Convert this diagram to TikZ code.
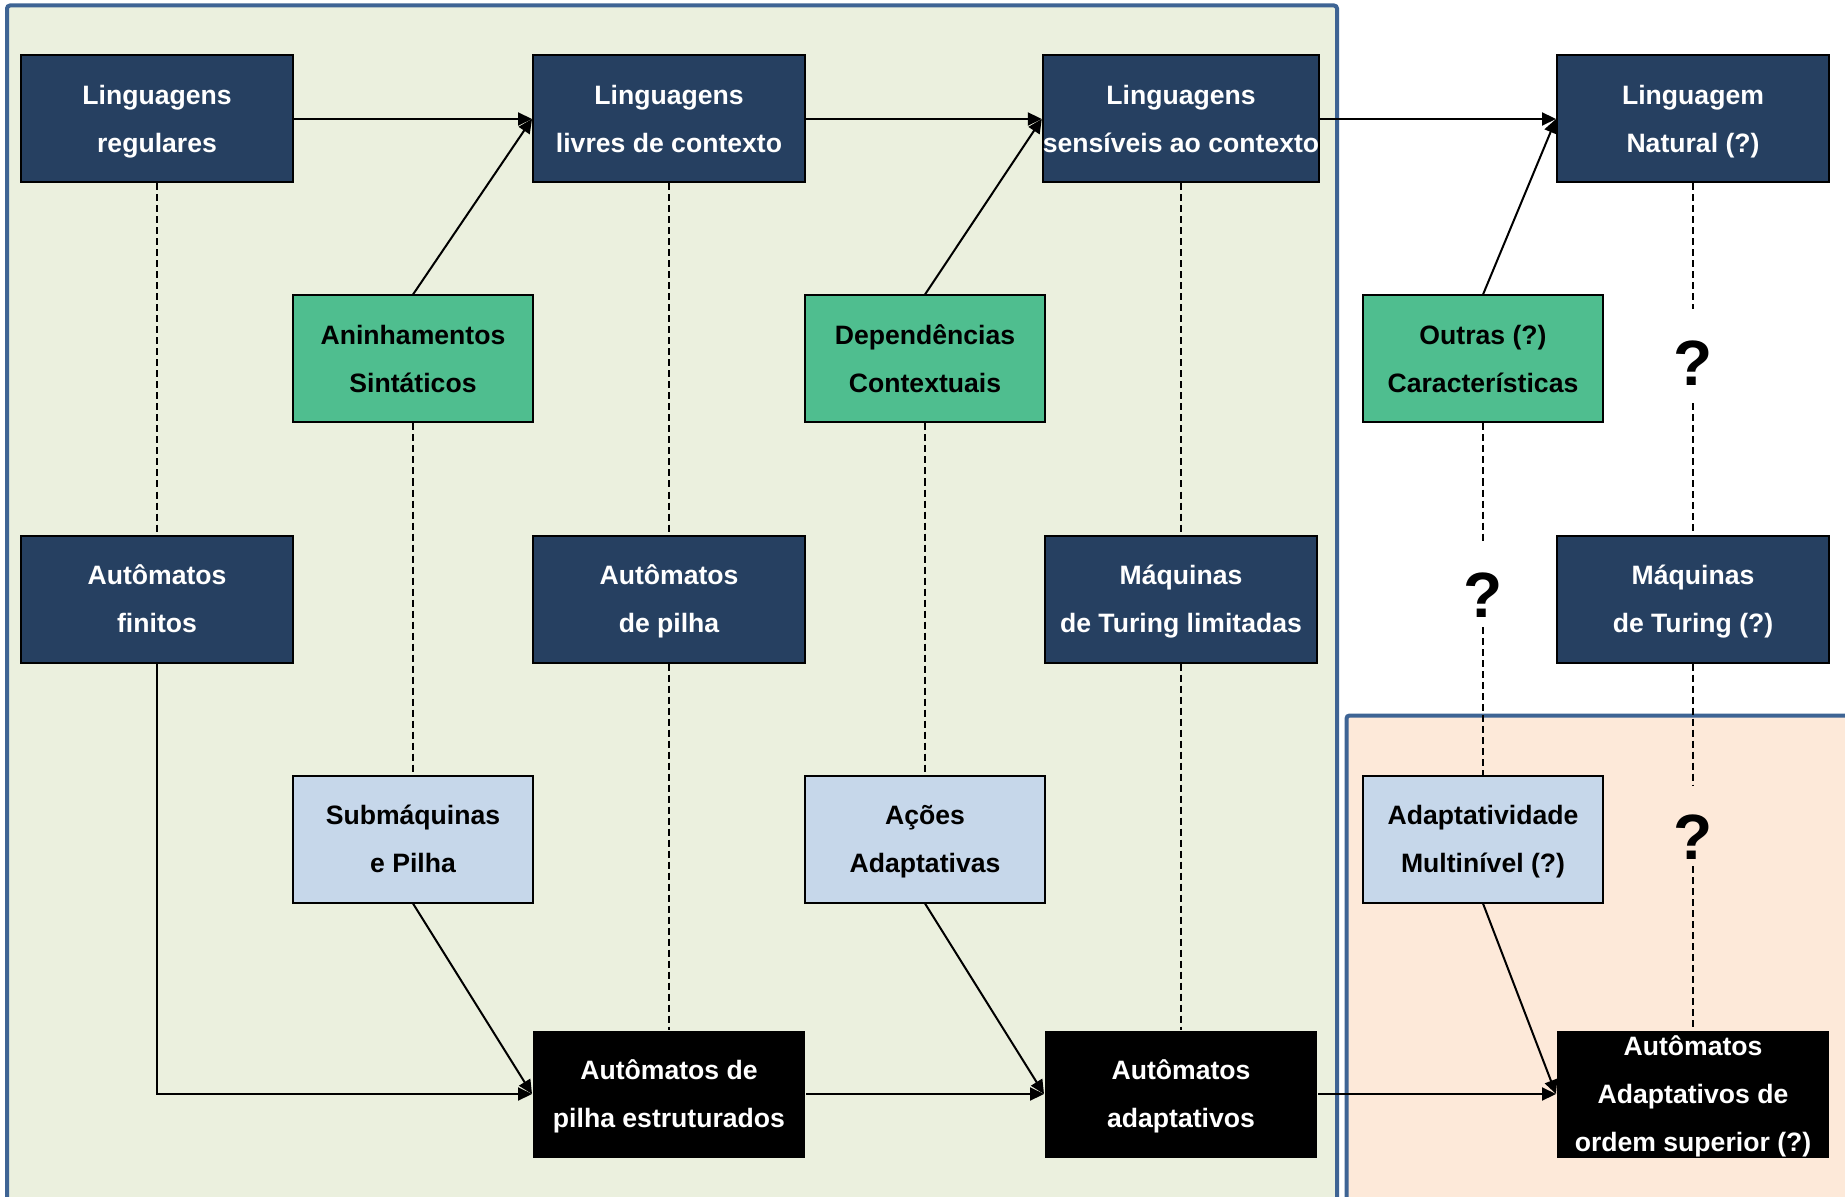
\documentclass[tikz,border=0pt]{standalone}
\usepackage{fontspec}
\setmainfont{Liberation Sans}
\usetikzlibrary{arrows.meta}
\definecolor{navy}{RGB}{38,64,97}
\definecolor{leaf}{RGB}{79,190,143}
\definecolor{sky}{RGB}{198,215,234}
\definecolor{olivebg}{RGB}{235,240,222}
\definecolor{peachbg}{RGB}{253,233,217}
\definecolor{framec}{RGB}{62,100,148}
\tikzset{
  region/.style={line width=2pt,draw=framec,rounded corners=1.5pt},
  cell/.style={draw=black,line width=1pt,align=center,inner sep=0pt,
    text height=33.5pt,text depth=0pt,
    font=\bfseries\fontsize{13.3}{24}\selectfont},
  langbox/.style={cell,fill=navy,text=white,minimum width=136pt,minimum height=63.5pt},
  featbox/.style={cell,fill=leaf,minimum width=120pt,minimum height=63.5pt},
  mechbox/.style={cell,fill=sky,minimum width=120pt,minimum height=63.5pt},
  resbox/.style={cell,draw=none,fill=black,text=white,minimum width=136pt,minimum height=63.5pt},
  link/.style={line width=1pt,-{Triangle[length=7pt,width=6.5pt]}},
  aid/.style={line width=0.7pt,dash pattern=on 3.5pt off 2pt},
  qmark/.style={font=\bfseries\fontsize{32}{32}\selectfont,inner sep=0pt,text depth=0pt}
}
\begin{document}
\begin{tikzpicture}[x=0.5pt,y=-0.5pt]
  \fill[white] (0,0) rectangle (1845,1197);
  \useasboundingbox (0,0) rectangle (1845,1197);
  \clip (0,0) rectangle (1845,1197);
  % regions
  \draw[region,fill=olivebg] (7,5.5) rectangle (1337,1230);
  \draw[region,fill=peachbg] (1346.5,715.5) rectangle (1880,1230);

  % languages
  \node[langbox] (RL)  at (157,119)  {Linguagens\\regulares};
  \node[langbox] (LLC) at (669,119)  {Linguagens\\livres de contexto};
  \node[langbox] (LSC) at (1181,119) {Linguagens\\sensíveis ao contexto};
  \node[langbox] (LN)  at (1693,119) {Linguagem\\Natural (?)};
  % features
  \node[featbox] (AS) at (413,359)  {Aninhamentos\\Sintáticos};
  \node[featbox] (DC) at (925,359)  {Dependências\\Contextuais};
  \node[featbox] (OC) at (1483,359) {Outras (?)\\Características};
  % machines
  \node[langbox] (AF)  at (157,599)  {Autômatos\\finitos};
  \node[langbox] (AP)  at (669,599)  {Autômatos\\de pilha};
  \node[langbox] (MTL) at (1181,599) {Máquinas\\de Turing limitadas};
  \node[langbox] (MT)  at (1693,599) {Máquinas\\de Turing (?)};
  % mechanisms
  \node[mechbox] (SP) at (413,839)  {Submáquinas\\e Pilha};
  \node[mechbox] (AC) at (925,839)  {Ações\\Adaptativas};
  \node[mechbox] (AM) at (1483,839) {Adaptatividade\\Multinível (?)};
  % results
  \node[resbox] (APE) at (669,1094)  {Autômatos de\\pilha estruturados};
  \node[resbox] (AA)  at (1181,1094) {Autômatos\\adaptativos};
  \node[resbox,text height=57.5pt] (AOS) at (1693,1094) {Autômatos\\Adaptativos de\\ordem superior (?)};
  % unknowns
  \node[qmark,minimum height=47pt,text height=29.4pt] (Q1) at (1693,356) {?};
  \node[qmark,minimum height=42pt,text height=32.8pt] (Q2) at (1483,585) {?};
  \node[qmark,minimum height=40pt,text height=33.4pt] (Q3) at (1693,826) {?};

  % correspondences
  \draw[aid] (RL) -- (AF);
  \draw[aid] (LLC) -- (AP);
  \draw[aid] (AP) -- (APE);
  \draw[aid] (LSC) -- (MTL);
  \draw[aid] (MTL) -- (AA);
  \draw[aid] (AS) -- (SP);
  \draw[aid] (DC) -- (AC);
  \draw[aid] (LN) -- (Q1);
  \draw[aid] (Q1) -- (MT);
  \draw[aid] (MT) -- (Q3);
  \draw[aid] (Q3) -- (AOS);
  \draw[aid] (OC) -- (Q2);
  \draw[aid] (Q2) -- (AM);

  % hierarchy
  \draw[link] (RL) -- (LLC);
  \draw[link] (LLC) -- (LSC);
  \draw[link] (LSC) -- (LN);
  \draw[link] (AS.north) -- (LLC.west);
  \draw[link] (DC.north) -- (LSC.west);
  \draw[link] (OC.north) -- (LN.west);
  \draw[link] (AF.south) |- (APE.west);
  \draw[link] (SP.south) -- (APE.west);
  \draw[link] (APE) -- (AA);
  \draw[link] (AC.south) -- (AA.west);
  \draw[link] (AA) -- (AOS);
  \draw[link] (AM.south) -- (AOS.west);
\end{tikzpicture}
\end{document}
